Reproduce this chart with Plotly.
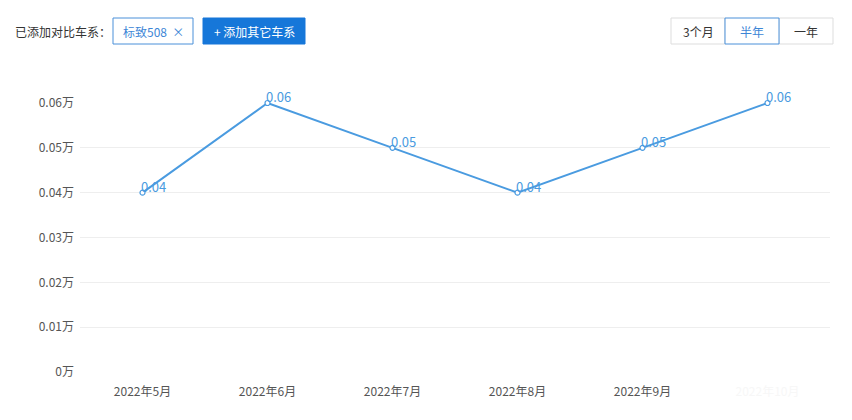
import plotly.graph_objects as go

W, H = 852, 420
OFF = 8   # the page puts the figure 8px in from the top-left corner

months = ['2022年5月', '2022年6月', '2022年7月', '2022年8月', '2022年9月', '2022年10月']
sales = [0.04, 0.06, 0.05, 0.04, 0.05, 0.06]   # 单位: 万
y_ticks = [0, 0.01, 0.02, 0.03, 0.04, 0.05, 0.06]

blue = '#4a9be0'
font_cn = 'Noto Sans CJK SC, Microsoft YaHei, sans-serif'

# last month label is almost invisible in the original
tick_labels = months[:-1] + ['<span style="color:#f7f7f7">' + months[-1] + '</span>']


def px(x):
    return (x - OFF) / W


def py(y):
    return 1 - (y - OFF) / H


fig = go.Figure(
    go.Scatter(
        x = months,
        y = sales,
        mode = 'lines+markers',
        line = dict(color=blue, width=2),
        marker = dict(size=5, color='white', line=dict(color=blue, width=1.2)),
        cliponaxis = False,
        hoverinfo = 'x+y',
        showlegend = False
        )
    )

shapes = []
annotations = []

# value labels, sitting just right/above each point
for m, v in zip(months, sales):
    annotations.append(dict(x=m, y=v, xref='x', yref='y', text='%g' % v, showarrow=False,
                            xanchor='left', yanchor='middle', xshift=-4, yshift=6,
                            font=dict(size=13, color=blue)))

# header: 已添加对比车系
annotations.append(dict(x=px(13), y=py(31), xref='paper', yref='paper', text='已添加对比车系：',
                        showarrow=False, xanchor='left', yanchor='middle',
                        font=dict(size=12, color='#333333')))
shapes.append(dict(type='rect', xref='paper', yref='paper', x0=px(113), x1=px(193), y0=py(44), y1=py(18),
                   line=dict(color='#4a90d9', width=1), fillcolor='white'))
annotations.append(dict(x=px(153), y=py(31), xref='paper', yref='paper', text='标致508  ×',
                        showarrow=False, xanchor='center', yanchor='middle',
                        font=dict(size=12, color='#3d86d6')))
shapes.append(dict(type='rect', xref='paper', yref='paper', x0=px(203), x1=px(305), y0=py(44), y1=py(18),
                   line=dict(color='#1677d9', width=1), fillcolor='#1677d9'))
annotations.append(dict(x=px(254), y=py(31), xref='paper', yref='paper', text='+ 添加其它车系',
                        showarrow=False, xanchor='center', yanchor='middle',
                        font=dict(size=12, color='white')))

# period switch
for label, x0, x1, active in [('3个月', 671, 725, False), ('半年', 725, 779, True), ('一年', 779, 833, False)]:
    shapes.append(dict(type='rect', xref='paper', yref='paper', x0=px(x0), x1=px(x1), y0=py(44), y1=py(18),
                       line=dict(color='#4a90d9' if active else '#dddddd', width=1), fillcolor='white',
                       layer='below' if not active else 'above'))
    annotations.append(dict(x=px((x0 + x1) / 2), y=py(31), xref='paper', yref='paper', text=label,
                            showarrow=False, xanchor='center', yanchor='middle',
                            font=dict(size=12, color='#3d86d6' if active else '#333333')))

fig.update_layout(
    width = W,
    height = H,
    margin = dict(l=0, r=0, t=0, b=0),
    paper_bgcolor = 'white',
    plot_bgcolor = 'white',
    font = dict(family=font_cn, size=12, color='#555555'),
    shapes = shapes,
    annotations = annotations,
    xaxis = dict(
        domain = [px(80), px(830)],
        range = [-0.5, 5.5],
        tickvals = months,
        ticktext = tick_labels,
        showgrid = False,
        zeroline = False,
        showline = False,
        ticks = '',
        ticklabelstandoff = 11,
        tickfont = dict(size=12, color='#555555'),
        automargin = False,
        fixedrange = True
        ),
    yaxis = dict(
        domain = [py(372), py(103)],
        range = [0, 0.06],
        tickvals = y_ticks,
        ticktext = ['%g万' % v for v in y_ticks],
        showgrid = True,
        gridcolor = '#eeeeee',
        gridwidth = 1,
        zeroline = False,
        showline = False,
        ticks = '',
        ticklabelstandoff = 5,
        tickfont = dict(size=12, color='#555555'),
        automargin = False,
        fixedrange = True
        )
)

fig.write_html("out.html")
